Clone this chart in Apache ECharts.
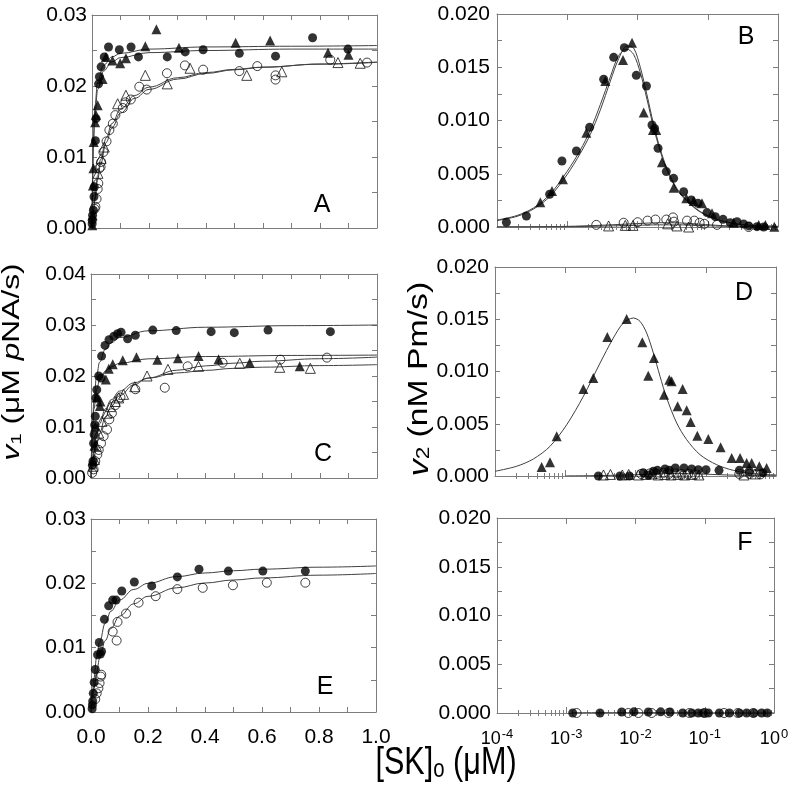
<!DOCTYPE html>
<html><head><meta charset="utf-8">
<script src="https://cdn.jsdelivr.net/npm/echarts/dist/echarts.min.js"></script>
<style>html,body{margin:0;padding:0;background:#fff}#c{width:800px;height:798px}</style>
</head><body><div id="c"></div>
<script>
// ---------------- DATA ----------------
// Panel A  (x: [SK]o uM, y: v1)
const A_filledCircle = [[0.0006,0.0006],[0.001,0.0011],[0.002,0.0018],[0.005,0.0025],[0.007,0.0044],[0.008,0.0058],[0.012,0.0123],[0.014,0.0154],[0.023,0.0203],[0.026,0.0213],[0.032,0.0227],[0.043,0.0241],[0.058,0.0255],[0.096,0.0251],[0.137,0.0255],[0.163,0.0241],[0.264,0.0241],[0.327,0.0248],[0.390,0.0251],[0.517,0.0246],[0.644,0.0242],[0.774,0.0268],[0.898,0.0252]];
const A_filledTri = [[0.001,0.0004],[0.002,0.0018],[0.003,0.0060],[0.005,0.0084],[0.006,0.0121],[0.011,0.0149],[0.014,0.0159],[0.020,0.0173],[0.037,0.0210],[0.049,0.0241],[0.072,0.0236],[0.099,0.0232],[0.119,0.0239],[0.187,0.0256],[0.226,0.0280],[0.305,0.0254],[0.504,0.0261],[0.625,0.0264],[0.828,0.0247],[0.900,0.0244]];
const A_openCircle = [[0.009,0.0027],[0.012,0.0030],[0.016,0.0041],[0.020,0.0055],[0.022,0.0063],[0.026,0.0084],[0.030,0.0086],[0.032,0.0093],[0.040,0.0107],[0.051,0.0122],[0.061,0.0138],[0.073,0.0147],[0.082,0.0159],[0.108,0.0169],[0.117,0.0177],[0.136,0.0181],[0.166,0.0199],[0.192,0.0195],[0.263,0.0218],[0.326,0.0229],[0.390,0.0223],[0.517,0.0221],[0.580,0.0228],[0.644,0.0215],[0.644,0.0209],[0.836,0.0237],[0.965,0.0233]];
const A_openTri = [[0.021,0.0077],[0.032,0.0098],[0.043,0.0114],[0.090,0.0175],[0.119,0.0187],[0.187,0.0215],[0.264,0.0203],[0.344,0.0225],[0.543,0.0215],[0.666,0.0220],[0.863,0.0233],[0.941,0.0232]];
const A_fitX_hi = [0,0.002,0.005,0.01,0.02,0.04,0.07,0.1,0.2,0.4,0.7,1.0];
const A_fit1 = [0,0.00737,0.0129,0.0172,0.0206,0.0229,0.0241,0.0246,0.0252,0.0255,0.0256,0.0257];
const A_fit2 = [0,0.00635,0.01155,0.0159,0.0195,0.0221,0.0234,0.0240,0.0247,0.0250,0.0252,0.0252];
const A_fitX_lo = [0,0.005,0.01,0.02,0.03,0.05,0.07,0.1,0.15,0.2,0.3,0.4,0.5,0.6,0.8,1.0];
const A_fit3 = [0,0.00239,0.00436,0.00739,0.00963,0.0127,0.01472,0.01671,0.01867,0.01984,0.02116,0.02189,0.02234,0.02266,0.02307,0.02333];
const A_fit4 = [0,0.00216,0.00397,0.00683,0.009,0.01206,0.01411,0.01618,0.01827,0.01952,0.02097,0.02177,0.02228,0.02264,0.0231,0.02338];

// Panel B  (x log, y: v2)
const B_filledCircle = [[1.36e-4,0.00044],[2.62e-4,0.00103],[5.62e-4,0.00307],[8.41e-4,0.0062],[1.35e-3,0.00714],[2.08e-3,0.00936],[3.30e-3,0.01387],[4.58e-3,0.01593],[6.50e-3,0.01684],[9.62e-3,0.01424],[0.0134,0.01324],[0.0161,0.00958],[0.0175,0.00926],[0.0196,0.00739],[0.0257,0.0052],[0.0327,0.00457],[0.0454,0.00332],[0.0583,0.00254],[0.0726,0.00222],[0.0975,0.00135],[0.128,0.00097],[0.165,0.00072],[0.209,0.00041],[0.261,0.0005],[0.324,0.00028],[0.383,0.0001],[0.502,0.00003],[0.625,0.0]];
const B_filledTri = [[4.14e-4,0.00232],[6.07e-4,0.00338],[8.69e-4,0.00448],[1.87e-3,0.00886],[3.48e-3,0.01371],[6.22e-3,0.01568],[8.36e-3,0.01731],[0.01225,0.01074],[0.0166,0.00911],[0.0185,0.00911],[0.0223,0.00607],[0.0327,0.00369],[0.0495,0.00269],[0.0631,0.00244],[0.0828,0.00222],[0.115,0.00128],[0.234,0.0004],[0.531,0.00019],[0.661,0.00019],[0.887,0.00003]];
const B_openCircle = [[2.59e-3,0.0002],[6.35e-3,0.0004],[0.01005,0.00045],[0.0139,0.0006],[0.0180,0.0007],[0.0257,0.0007],[0.0320,0.0009],[0.0331,0.0005],[0.0507,0.0006],[0.0644,0.0006],[0.0766,0.0004],[0.0893,0.0003],[0.1355,0.0002],[0.382,0.0]];
const B_openTri = [[3.88e-3,0.0001],[6.70e-3,0.00015],[8.63e-3,0.00015],[0.0269,0.0003],[0.0365,0.0001],[0.0535,0.0]];
const B_fitX = [1e-4,1.93e-4,3.33e-4,5.74e-4,9.9e-4,1.53e-3,2.13e-3,2.96e-3,4.11e-3,5.39e-3,7.09e-3,8.82e-3,0.01096,0.01364,0.0170,0.0211,0.0263,0.0365,0.0507,0.0784,0.1355,0.234,0.404,1.0];
const B_fit1 = [0.0006,0.0010,0.0017,0.0029,0.0049,0.0069,0.0087,0.0110,0.0137,0.0158,0.0170,0.0168,0.0150,0.0124,0.0096,0.0073,0.0055,0.0036,0.0025,0.00144,0.00072,0.00034,0.00016,0.00006];
const B_fit2 = [0.00065,0.00108,0.0018,0.0031,0.0052,0.0072,0.0091,0.0115,0.0141,0.0161,0.0167,0.0162,0.0145,0.0120,0.0093,0.0071,0.0053,0.0035,0.0024,0.0014,0.0007,0.00033,0.00015,0.00005];
const B_lowX = [1e-4,3e-4,1e-3,3e-3,0.01,0.02,0.04,0.08,0.15,0.3,1.0];
const B_low1 = [0.00001,0.00002,0.00006,0.00016,0.00032,0.0004,0.00038,0.00026,0.00014,0.00006,0.00001];
const B_low2 = [0.00001,0.00001,0.00003,0.00008,0.00016,0.0002,0.0002,0.00014,0.00008,0.00003,0.00001];

// Panel C
const C_filledCircle = [[0.005,0.0025],[0.007,0.0033],[0.009,0.0068],[0.011,0.0085],[0.013,0.0104],[0.015,0.0121],[0.017,0.0157],[0.020,0.0173],[0.027,0.0200],[0.035,0.0196],[0.037,0.0239],[0.049,0.0260],[0.063,0.0271],[0.080,0.0278],[0.093,0.0283],[0.105,0.0286],[0.128,0.0273],[0.155,0.0280],[0.216,0.0290],[0.298,0.0289],[0.420,0.0287],[0.501,0.0285],[0.619,0.0290],[0.837,0.0287]];
const C_filledTri = [[0.007,0.0035],[0.012,0.0063],[0.015,0.0101],[0.021,0.0158],[0.031,0.0141],[0.033,0.0150],[0.052,0.0193],[0.062,0.0214],[0.076,0.0223],[0.111,0.0231],[0.159,0.0237],[0.232,0.0232],[0.304,0.0235],[0.376,0.0239],[0.446,0.0233],[0.555,0.0226],[0.730,0.0219]];
const C_openCircle = [[0.004,0.0010],[0.009,0.0017],[0.015,0.0033],[0.022,0.0046],[0.027,0.0055],[0.035,0.0068],[0.044,0.0082],[0.056,0.0095],[0.064,0.0115],[0.073,0.0127],[0.085,0.0143],[0.103,0.0158],[0.155,0.0174],[0.258,0.0177],[0.338,0.0219],[0.460,0.0226],[0.662,0.0232],[0.825,0.0236]];
const C_openTri = [[0.007,0.0023],[0.012,0.0036],[0.019,0.0062],[0.027,0.0088],[0.038,0.0111],[0.056,0.0127],[0.068,0.0140],[0.085,0.0150],[0.097,0.0157],[0.114,0.0164],[0.153,0.0179],[0.196,0.0200],[0.269,0.0213],[0.376,0.0219],[0.520,0.0225],[0.660,0.0217],[0.767,0.0215]];
const C_fitX_hi = [0,0.002,0.005,0.01,0.02,0.03,0.05,0.07,0.1,0.2,0.4,0.7,1.0];
const C_fit1 = [0,0.00505,0.0101,0.01515,0.0202,0.0227,0.02525,0.0265,0.02755,0.02886,0.02956,0.02987,0.0300];
const C_fit2 = [0,0.00486,0.00935,0.0135,0.01736,0.01918,0.02095,0.0218,0.0225,0.02337,0.02382,0.02403,0.0241];
const C_fitX_lo = [0,0.005,0.01,0.02,0.03,0.05,0.07,0.1,0.15,0.2,0.3,0.4,0.5,0.6,0.8,1.0];
const C_fit3 = [0,0.00208,0.00385,0.00667,0.00882,0.0119,0.014,0.01613,0.01829,0.01961,0.02113,0.02198,0.02252,0.0229,0.02339,0.0237];
const C_fit4 = [0,0.00288,0.00511,0.00836,0.01062,0.01353,0.01533,0.01704,0.01865,0.01957,0.0206,0.0211,0.0215,0.02173,0.02204,0.02222];

// Panel D
const D_filledTri = [[4.61e-4,0.00086],[6.07e-4,0.00131],[7.55e-4,0.0038],[1.81e-3,0.00833],[2.51e-3,0.00938],[3.97e-3,0.0133],[7.48e-3,0.01502],[0.0125,0.0128],[0.0152,0.0096],[0.0183,0.01129],[0.0255,0.00778],[0.0303,0.00922],[0.0327,0.00906],[0.0398,0.00667],[0.0469,0.00833],[0.0535,0.00628],[0.0610,0.00517],[0.0759,0.00386],[0.1088,0.00354],[0.163,0.00274],[0.234,0.00172],[0.308,0.00172],[0.382,0.00124],[0.451,0.00124],[0.579,0.00093],[0.736,0.00077]];
const D_filledCircle = [[2.96e-3,0.0],[6.01e-3,0.0],[8.17e-3,0.0],[0.0129,0.0003],[0.0152,0.0001],[0.0180,0.00045],[0.0205,0.00054],[0.0263,0.00067],[0.0303,0.00054],[0.0369,0.00077],[0.0490,0.00077],[0.0630,0.00067],[0.0784,0.0006],[0.1009,0.0006],[0.1545,0.00054],[0.301,0.00054],[0.417,0.00045],[0.65,0.0003]];
const D_openTri = [[3.5e-3,0.0001],[4.4e-3,0.00015],[6.5e-3,0.0001],[8e-3,0.00015],[0.011,0.0001],[0.014,0.00015],[0.017,0.0002],[0.021,0.0001],[0.026,0.00015],[0.032,0.0001],[0.04,0.00015],[0.05,0.0001],[0.063,0.00015],[0.08,0.0001],[0.35,0.0001],[0.5,0.0002]];
const D_openCircle = [[0.012,0.0002],[0.016,0.00025],[0.02,0.0002],[0.025,0.0003],[0.03,0.0002],[0.038,0.00025],[0.045,0.0002],[0.056,0.0002],[0.07,0.00015],[0.3,0.0002],[0.42,0.0002],[0.6,0.00015]];
const D_fitX = [1e-4,2.03e-4,3.52e-4,6.07e-4,1.05e-3,1.81e-3,3.13e-3,4.83e-3,6.71e-3,9.31e-3,0.01159,0.01442,0.01795,0.02234,0.0278,0.0386,0.0535,0.0828,0.143,0.247,0.475,1.0];
const D_fit = [0.00045,0.00093,0.00163,0.00284,0.00491,0.00762,0.01081,0.0132,0.01464,0.01512,0.0148,0.01368,0.01177,0.00954,0.00746,0.00507,0.00348,0.00204,0.00108,0.00054,0.00022,0.0001];
const D_lowX = [1e-3,3e-3,0.01,0.02,0.04,0.08,0.2,0.5,1.0];
const D_low = [0.00001,0.00004,0.00012,0.0002,0.00025,0.0002,0.0001,0.00004,0.00002];

// Panel E
const E_filledCircle = [[0.004,0.0005],[0.005,0.0011],[0.006,0.0017],[0.008,0.0029],[0.011,0.0046],[0.015,0.0066],[0.023,0.0089],[0.029,0.0108],[0.033,0.0090],[0.037,0.0094],[0.047,0.0144],[0.062,0.0165],[0.076,0.0174],[0.088,0.0174],[0.108,0.0188],[0.152,0.0202],[0.213,0.0196],[0.303,0.0210],[0.379,0.0222],[0.482,0.0219],[0.603,0.0219],[0.752,0.0219]];
const E_openCircle = [[0.015,0.0020],[0.020,0.0029],[0.026,0.0037],[0.030,0.0045],[0.034,0.0055],[0.036,0.0058],[0.076,0.0125],[0.090,0.0111],[0.093,0.0140],[0.123,0.0153],[0.167,0.0170],[0.227,0.0180],[0.303,0.0191],[0.392,0.0193],[0.498,0.0197],[0.617,0.0201],[0.752,0.0201]];
const E_fitX = [0,0.005,0.01,0.02,0.03,0.05,0.07,0.1,0.15,0.2,0.3,0.4,0.5,0.6,0.8,1.0];
const E_fit1 = [0,0.00294,0.00522,0.00855,0.01085,0.01382,0.01567,0.01741,0.01905,0.02,0.02104,0.02161,0.02196,0.0222,0.02251,0.0227];
const E_fit2 = [0,0.00199,0.00365,0.00629,0.00829,0.0111,0.013,0.0149,0.01682,0.01798,0.0193,0.02005,0.02052,0.02084,0.02127,0.02153];

// Panel F
const F_filledCircle = [[1.24e-3,0],[3.07e-3,0],[6.31e-3,0.0001],[9.5e-3,0.00012],[0.0153,0.0001],[0.0231,0.00012],[0.0315,0.0001],[0.048,0],[0.0647,0],[0.0807,0],[0.0955,0],[0.1127,0],[0.1625,0],[0.2265,0],[0.3155,0],[0.4027,0],[0.514,0],[0.664,0],[0.80,0]];
const F_openCircle = [[1.41e-3,0],[7.87e-3,0],[0.011,0],[0.0171,0],[0.03,0],[0.06,0],[0.1,0],[0.19,0],[0.3,0],[0.5,0]];
const F_fitX = [1.2e-3,0.01,0.1,1.0];
const F_fit = [0.00003,0.00004,0.00002,0.00001];

// Tick labels
const linXLabels = ['0.0','0.2','0.4','0.6','0.8','1.0'];
const logExponents = [-4,-3,-2,-1,0];
const panelLetters = ['A','B','C','D','E','F'];

// ---------------- LAYOUT ----------------
const FONT = "'Liberation Sans', Arial, Helvetica, sans-serif";
const FRAME = '#7d7d7d';
const grids = [
  {left:92, top:15, width:285, height:213},
  {left:497, top:14, width:281, height:213},
  {left:91, top:274, width:286, height:204},
  {left:495, top:267, width:281, height:209},
  {left:91, top:519, width:285, height:193},
  {left:497, top:518, width:277, height:195}
].map(g => Object.assign(g, {containLabel:false, outerBoundsMode:'none'}));

const xAxes = [], yAxes = [], series = [];
const lineSt = {color:FRAME, width:1};

function linX(g, showLabels) {
  const base = {gridIndex:g, type:'value', min:0, max:1, interval:0.2,
    axisLine:{show:true, onZero:false, lineStyle:lineSt},
    axisTick:{show:true, inside:true, length:5, lineStyle:lineSt},
    minorTick:{show:true, splitNumber:2, length:5, lineStyle:lineSt},
    splitLine:{show:false}, minorSplitLine:{show:false}};
  const i = xAxes.length;
  xAxes.push(Object.assign({}, base, {position:'bottom',
    axisLabel:{show:showLabels, margin:15, fontSize:21, color:'#000', fontFamily:FONT,
      formatter: v => linXLabels[Math.round(v/0.2)]}}));
  xAxes.push(Object.assign({}, base, {position:'top', axisLabel:{show:false}}));
  return i;
}
const minorLog = [];
for (let d = -4; d < 0; d++) for (let k = 2; k <= 9; k++) minorLog.push(d + Math.log10(k));

function logX(g, showLabels) {
  const i = xAxes.length;
  xAxes.push({gridIndex:g, type:'log', logBase:10, min:1e-4, max:1, position:'bottom',
    axisLine:{show:true, onZero:false, lineStyle:lineSt}, axisTick:{show:false},
    axisLabel:{show:false}, splitLine:{show:false}, minorTick:{show:false}});
  ['bottom','top'].forEach(pos => {
    xAxes.push({gridIndex:g, type:'value', min:-4, max:0, interval:1, position:pos,
      axisLine:{show:pos==='top', onZero:false, lineStyle:lineSt},
      axisTick:{show:true, inside:true, length:6, lineStyle:lineSt},
      axisLabel: (pos==='bottom' && showLabels) ? {show:true, margin:15, color:'#000', fontFamily:FONT,
        formatter: v => '{b|10}{s|' + logExponents[Math.round(v)+4] + '}',
        rich:{b:{fontSize:18, fontFamily:FONT, color:'#000', lineHeight:20, verticalAlign:'bottom'},
              s:{fontSize:13, fontFamily:FONT, color:'#000', lineHeight:13, verticalAlign:'top', padding:[0,0,0,1]}}} : {show:false},
      splitLine:{show:false}});
    xAxes.push({gridIndex:g, type:'value', min:-4, max:0, position:pos,
      axisLine:{show:false}, axisTick:{show:true, inside:true, length:3, customValues:minorLog, lineStyle:lineSt},
      axisLabel:{show:false}, splitLine:{show:false}});
  });
  return i;
}
function yAx(g, max, decimals, margin) {
  const i = yAxes.length;
  const base = {gridIndex:g, type:'value', min:0, max:max, interval: decimals===2 ? 0.01 : 0.005,
    axisLine:{show:true, onZero:false, lineStyle:lineSt},
    axisTick:{show:true, inside:true, length:5, lineStyle:lineSt},
    minorTick:{show:true, splitNumber:2, length:5, lineStyle:lineSt},
    splitLine:{show:false}, minorSplitLine:{show:false}};
  yAxes.push(Object.assign({}, base, {position:'left',
    axisLabel:{show:true, margin:margin, fontSize:21, color:'#000', fontFamily:FONT, formatter: v => v.toFixed(decimals)}}));
  yAxes.push(Object.assign({}, base, {position:'right', axisLabel:{show:false}}));
  return i;
}
function sc(x, y, data, symbol, filled) {
  series.push({type:'scatter', xAxisIndex:x, yAxisIndex:y, data:data, symbol:symbol,
    symbolSize: symbol === 'triangle' ? 10 : 9, z:3, silent:true,
    itemStyle: filled ? {color:'#000'} : {color:'rgba(255,255,255,0)', borderColor:'#111', borderWidth:1}});
}
function ln(x, y, xs, ys, isLog) {
  const s = {type:'line', xAxisIndex:x, yAxisIndex:y, data: xs.map((v, k) => [v, ys[k]]),
    showSymbol:false, symbol:'none', z:2, silent:true,
    lineStyle:{color:'#404040', width:1}};
  if (isLog) { s.smooth = 0.3; } else { s.smooth = 0.4; s.smoothMonotone = 'x'; }
  series.push(s);
}

// Panel A
let xa = linX(0, false), ya = yAx(0, 0.03, 2, 5);
ln(xa, ya, A_fitX_hi, A_fit1); ln(xa, ya, A_fitX_hi, A_fit2);
ln(xa, ya, A_fitX_lo, A_fit3); ln(xa, ya, A_fitX_lo, A_fit4);
sc(xa, ya, A_openCircle, 'circle', false); sc(xa, ya, A_openTri, 'triangle', false);
sc(xa, ya, A_filledCircle, 'circle', true); sc(xa, ya, A_filledTri, 'triangle', true);
// Panel B
let xb = logX(1, false), yb = yAx(1, 0.02, 3, 7);
ln(xb, yb, B_fitX, B_fit1, true); ln(xb, yb, B_fitX, B_fit2, true);
ln(xb, yb, B_lowX, B_low1, true); ln(xb, yb, B_lowX, B_low2, true);
sc(xb, yb, B_openCircle, 'circle', false); sc(xb, yb, B_openTri, 'triangle', false);
sc(xb, yb, B_filledCircle, 'circle', true); sc(xb, yb, B_filledTri, 'triangle', true);
// Panel C
let xc = linX(2, false), yc = yAx(2, 0.04, 2, 5);
ln(xc, yc, C_fitX_hi, C_fit1); ln(xc, yc, C_fitX_hi, C_fit2);
ln(xc, yc, C_fitX_lo, C_fit3); ln(xc, yc, C_fitX_lo, C_fit4);
sc(xc, yc, C_openCircle, 'circle', false); sc(xc, yc, C_openTri, 'triangle', false);
sc(xc, yc, C_filledCircle, 'circle', true); sc(xc, yc, C_filledTri, 'triangle', true);
// Panel D
let xd = logX(3, false), yd = yAx(3, 0.02, 3, 6);
ln(xd, yd, D_fitX, D_fit, true); ln(xd, yd, D_lowX, D_low, true);
sc(xd, yd, D_openCircle, 'circle', false); sc(xd, yd, D_openTri, 'triangle', false);
sc(xd, yd, D_filledCircle, 'circle', true); sc(xd, yd, D_filledTri, 'triangle', true);
// Panel E
let xe = linX(4, true), ye = yAx(4, 0.03, 2, 5);
ln(xe, ye, E_fitX, E_fit1); ln(xe, ye, E_fitX, E_fit2);
sc(xe, ye, E_openCircle, 'circle', false); sc(xe, ye, E_filledCircle, 'circle', true);
// Panel F
let xf = logX(5, true), yf = yAx(5, 0.02, 3, 6);
ln(xf, yf, F_fitX, F_fit, true);
sc(xf, yf, F_openCircle, 'circle', false); sc(xf, yf, F_filledCircle, 'circle', true);

// Texts
const letterPos = [[322,205],[746,37],[323,454],[744,293],[325,687],[745,543]];
const graphic = panelLetters.map((t, k) => ({type:'text', x:letterPos[k][0], y:letterPos[k][1], z:10,
  style:{text:t, fontSize:25, fontFamily:FONT, fill:'#000', align:'center', verticalAlign:'middle', textAlign:'center', textVerticalAlign:'middle'}}));
function title(text, x, y, rot, size, sx, sy) {
  graphic.push({type:'text', x:x, y:y, rotation:rot, scaleX:sx, scaleY:sy, z:10,
    style:{text:text, fontSize:size, fontFamily:FONT, fill:'#000', align:'center', verticalAlign:'middle',
      textAlign:'center', textVerticalAlign:'middle',
      rich:{i:{fontStyle:'italic', fontSize:size, fontFamily:FONT, fill:'#000'},
            sub:{fontSize:Math.round(size*0.65), fontFamily:FONT, fill:'#000', verticalAlign:'bottom'},
            n:{fontSize:size, fontFamily:FONT, fill:'#000'}}}});
}
title('{i|v}{sub|1}{n| (μM }{i|p}{n|NA/s)}', 13, 362, Math.PI/2, 23, 1.38, 1);
title('{i|v}{sub|2}{n| (nM Pm/s)}', 420, 379, Math.PI/2, 27, 1.25, 1);
title('{n|[SK]}{sub|o}{n| (μM)}', 446, 763, 0, 30, 1.02, 1.3);

const chart = echarts.init(document.getElementById('c'), null, {renderer:'canvas'});
chart.setOption({animation:false, backgroundColor:'#fff', grid:grids, xAxis:xAxes, yAxis:yAxes, series:series, graphic:graphic});
</script></body></html>
